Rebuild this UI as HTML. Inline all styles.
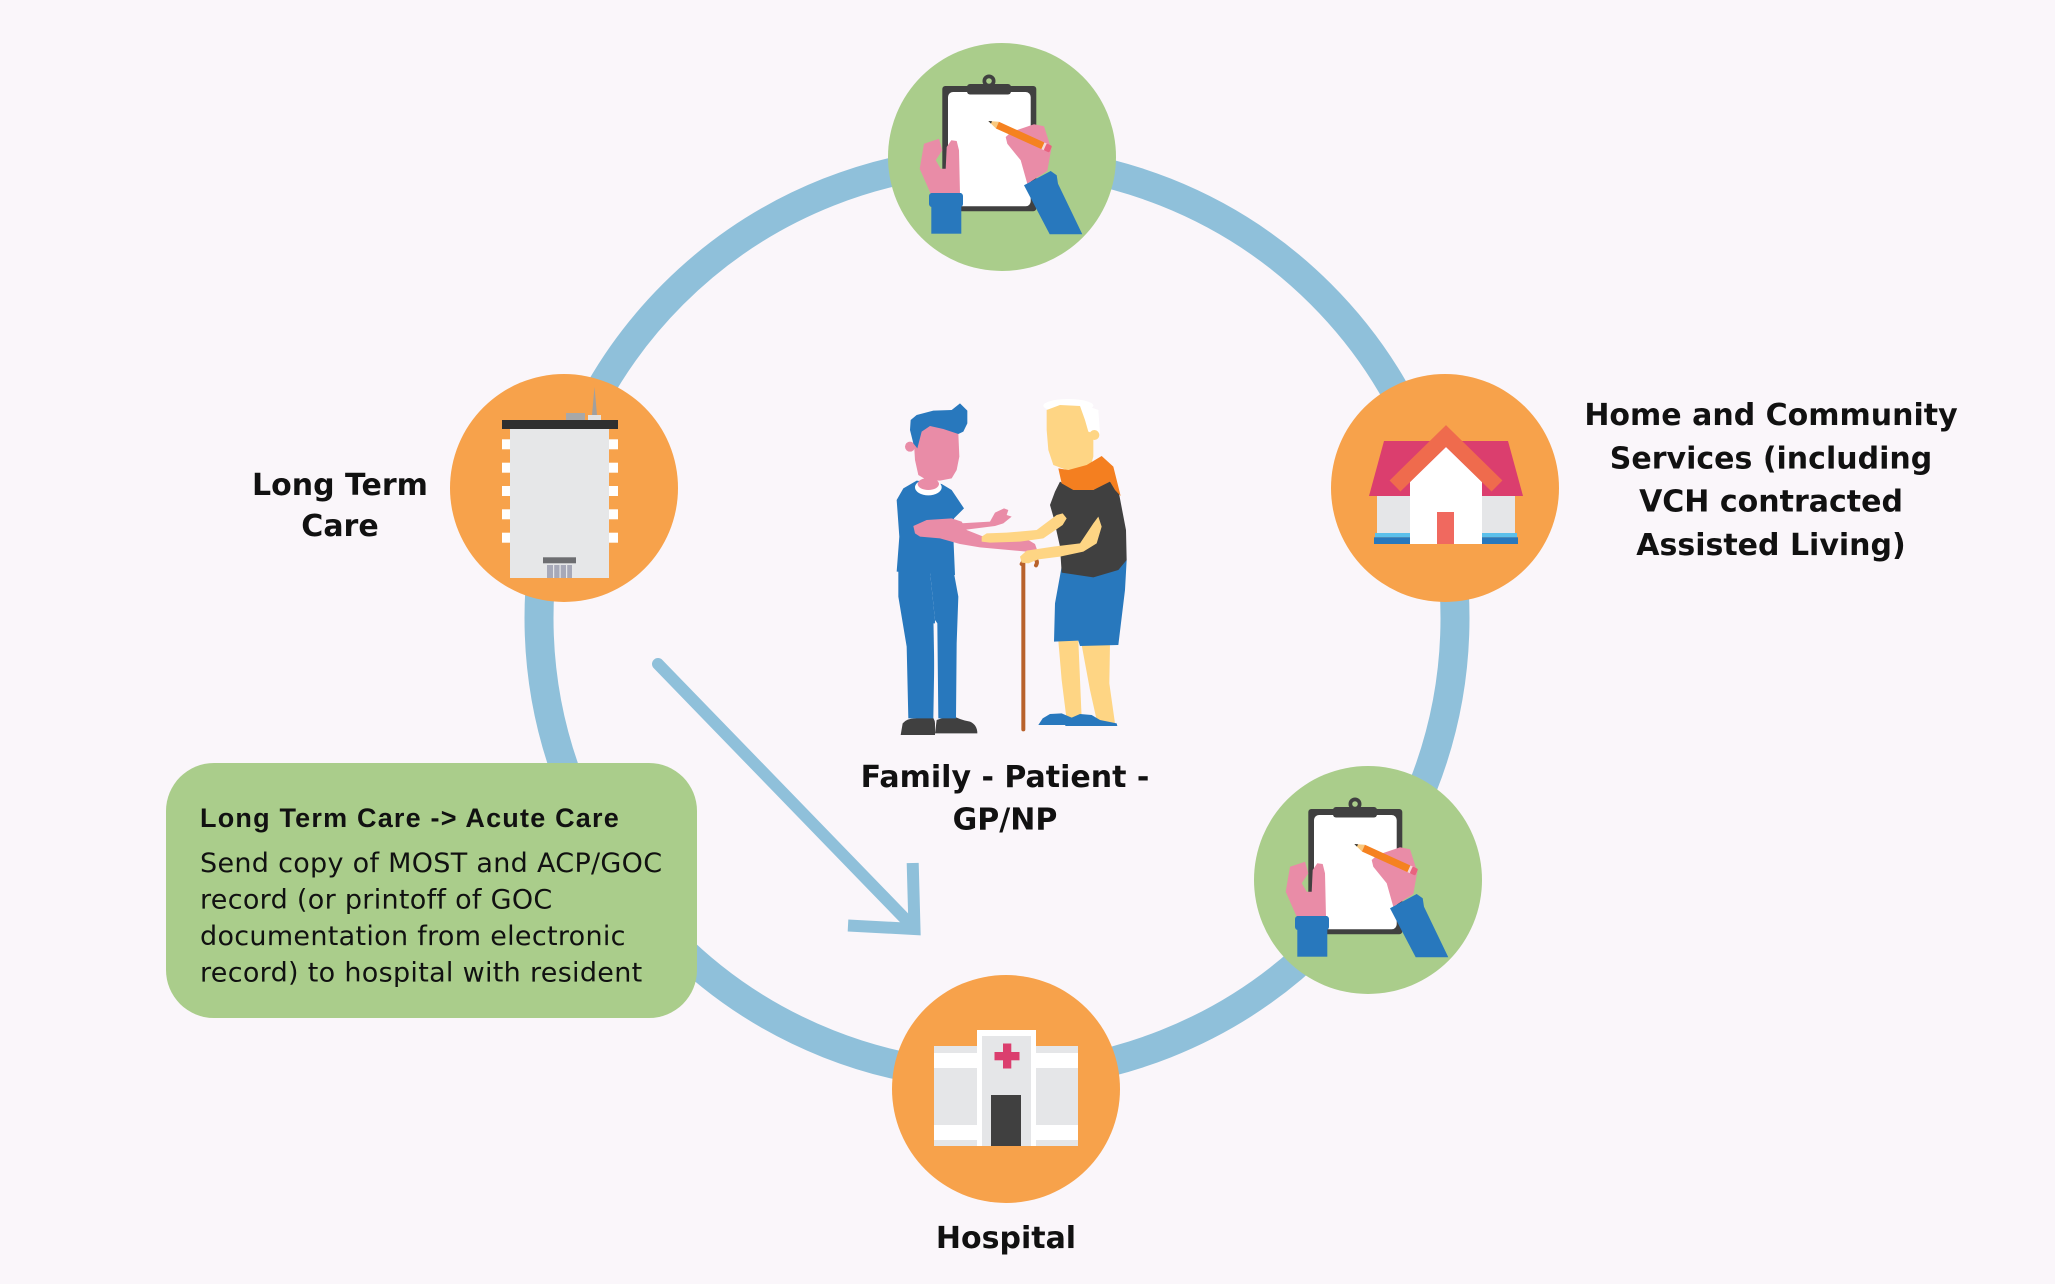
<!DOCTYPE html>
<html>
<head>
<meta charset="utf-8">
<style>
  html,body{margin:0;padding:0;background:#faf6fa;}
  svg{display:block;}
  .lbl{font-family:"DejaVu Sans","Liberation Sans",sans-serif;font-weight:bold;font-size:30px;fill:#111;}
  .bt{font-family:"Liberation Sans","DejaVu Sans",sans-serif;font-weight:bold;font-size:27px;fill:#111;letter-spacing:1.2px;}
  .bb{font-family:"DejaVu Sans","Liberation Sans",sans-serif;font-size:27px;fill:#111;letter-spacing:0.3px;}
</style>
</head>
<body>
<svg width="2055" height="1284" viewBox="0 0 2055 1284" xmlns="http://www.w3.org/2000/svg">
  <rect x="0" y="0" width="2055" height="1284" fill="#faf6fa"/>

  <!-- big ring -->
  <circle cx="997" cy="618" r="458" fill="none" stroke="#8fc0da" stroke-width="29"/>

  <!-- arrow -->
  <line x1="658" y1="664" x2="912" y2="926" stroke="#8fc0da" stroke-width="12" stroke-linecap="round"/>
  <polyline points="912.7,863 914.5,929 848,925.5" fill="none" stroke="#8fc0da" stroke-width="12" stroke-linecap="butt" stroke-linejoin="miter"/>

  <!-- green info box -->
  <rect x="166" y="763" width="531" height="255" rx="48" ry="48" fill="#aacd8b"/>
  <text x="200" y="827" class="bt">Long Term Care -&gt; Acute Care</text>
  <text x="200" y="872" class="bb">Send copy of MOST and ACP/GOC</text>
  <text x="200" y="908.5" class="bb">record (or printoff of GOC</text>
  <text x="200" y="945" class="bb">documentation from electronic</text>
  <text x="200" y="981.7" class="bb">record) to hospital with resident</text>

  <!-- ===== top clipboard circle ===== -->
  <g transform="translate(1002,157)">
    <circle cx="0" cy="0" r="114" fill="#aacd8b"/>
    <rect x="-59.7" y="-71" width="94" height="125.3" rx="3" fill="#404040"/>
    <rect x="-54" y="-65" width="82.7" height="114.3" rx="5" fill="#ffffff"/>
    <rect x="-35" y="-73" width="44" height="10.5" rx="3" fill="#404040"/>
    <circle cx="-13" cy="-76" r="6.5" fill="#404040"/>
    <circle cx="-13" cy="-76" r="2.8" fill="#aacd8b"/>
    <polygon fill="#e98ca7" points="-78,-13.3 -63,-18.3 -59.7,-6.7 -66.3,3.3 -61.3,11.7 -56.3,11.7 -55.3,-10 -50.7,-16.7 -45.3,-16 -43,-6.7 -42,36.7 -71.3,36.7 -82.3,11.7"/>
    <rect x="-70.7" y="36" width="30" height="40.7" fill="#2878bd"/>
    <rect x="-73" y="36" width="34" height="14" rx="3" fill="#2878bd"/>
    <polygon fill="#e98ca7" points="3.7,-20 9.3,-25 32,-32.7 42,-30.7 49.3,-8.3 45.3,14 25.3,26.7 18.7,3.3 5.3,-13.3"/>
    <g transform="translate(-13.7,-36) rotate(24.4)">
      <polygon points="0,0 10,-3.65 10,3.65" fill="#f9c97f"/>
      <polygon points="0,0 3.5,-1.3 3.5,1.3" fill="#333"/>
      <rect x="10" y="-3.65" width="50" height="7.3" fill="#f58220"/>
      <rect x="60" y="-3.65" width="2.5" height="7.3" fill="#f6dada"/>
      <rect x="62.5" y="-3.65" width="6" height="7.3" rx="1.5" fill="#e9637f"/>
    </g>
    <polygon fill="#2878bd" points="22,28.3 48.7,14 54.7,18.3 56,26.7 80.3,77.3 47.7,77.3"/>
  </g>

  <!-- ===== lower right clipboard circle ===== -->
  <g transform="translate(1368,880)">
    <circle cx="0" cy="0" r="114" fill="#aacd8b"/>
    <rect x="-59.7" y="-71" width="94" height="125.3" rx="3" fill="#404040"/>
    <rect x="-54" y="-65" width="82.7" height="114.3" rx="5" fill="#ffffff"/>
    <rect x="-35" y="-73" width="44" height="10.5" rx="3" fill="#404040"/>
    <circle cx="-13" cy="-76" r="6.5" fill="#404040"/>
    <circle cx="-13" cy="-76" r="2.8" fill="#aacd8b"/>
    <polygon fill="#e98ca7" points="-78,-13.3 -63,-18.3 -59.7,-6.7 -66.3,3.3 -61.3,11.7 -56.3,11.7 -55.3,-10 -50.7,-16.7 -45.3,-16 -43,-6.7 -42,36.7 -71.3,36.7 -82.3,11.7"/>
    <rect x="-70.7" y="36" width="30" height="40.7" fill="#2878bd"/>
    <rect x="-73" y="36" width="34" height="14" rx="3" fill="#2878bd"/>
    <polygon fill="#e98ca7" points="3.7,-20 9.3,-25 32,-32.7 42,-30.7 49.3,-8.3 45.3,14 25.3,26.7 18.7,3.3 5.3,-13.3"/>
    <g transform="translate(-13.7,-36) rotate(24.4)">
      <polygon points="0,0 10,-3.65 10,3.65" fill="#f9c97f"/>
      <polygon points="0,0 3.5,-1.3 3.5,1.3" fill="#333"/>
      <rect x="10" y="-3.65" width="50" height="7.3" fill="#f58220"/>
      <rect x="60" y="-3.65" width="2.5" height="7.3" fill="#f6dada"/>
      <rect x="62.5" y="-3.65" width="6" height="7.3" rx="1.5" fill="#e9637f"/>
    </g>
    <polygon fill="#2878bd" points="22,28.3 48.7,14 54.7,18.3 56,26.7 80.3,77.3 47.7,77.3"/>
  </g>

  <!-- ===== Long Term Care circle ===== -->
  <circle cx="564" cy="488" r="114" fill="#f7a24b"/>
  <polygon points="592,415 597,415 594.5,387" fill="#a0a0a0"/>
  <rect x="566" y="413" width="19" height="7" fill="#a8a8a8"/>
  <rect x="588" y="415" width="13" height="5" fill="#e2e2e2"/>
  <rect x="502" y="420" width="116" height="9" fill="#2f2f2f"/>
  <rect x="510" y="429" width="99" height="149" fill="#e6e7e8"/>
  <g fill="#ffffff">
    <rect x="502" y="439.3" width="8" height="10"/>
    <rect x="502" y="462.7" width="8" height="10"/>
    <rect x="502" y="486" width="8" height="10"/>
    <rect x="502" y="509.3" width="8" height="10"/>
    <rect x="502" y="532.7" width="8" height="10"/>
    <rect x="609" y="439.3" width="9" height="10"/>
    <rect x="609" y="462.7" width="9" height="10"/>
    <rect x="609" y="486" width="9" height="10"/>
    <rect x="609" y="509.3" width="9" height="10"/>
    <rect x="609" y="532.7" width="9" height="10"/>
  </g>
  <rect x="543" y="557.3" width="33" height="6" fill="#6d6e71"/>
  <rect x="547" y="565" width="25" height="13" fill="#a7a9b8"/>
  <g fill="#e6e7e8">
    <rect x="553" y="565" width="1.2" height="13"/>
    <rect x="559.5" y="565" width="1.2" height="13"/>
    <rect x="566" y="565" width="1.2" height="13"/>
  </g>

  <!-- ===== House circle ===== -->
  <circle cx="1445" cy="488" r="114" fill="#f7a24b"/>
  <polygon points="1384,441 1508,441 1523,496 1369,496" fill="#db3e6e"/>
  <rect x="1377" y="496" width="138" height="37" fill="#e5e6e8"/>
  <rect x="1375" y="533" width="142" height="4.3" fill="#5bc0eb"/>
  <rect x="1374" y="537.3" width="144" height="6.7" fill="#2878bd"/>
  <polygon points="1410,482 1446,447 1482,482 1482,544 1410,544" fill="#ffffff"/>
  <polyline points="1395,486 1446,436 1497,486" fill="none" stroke="#ef6b4d" stroke-width="15.5" stroke-linecap="butt" stroke-linejoin="miter"/>
  <rect x="1437" y="512" width="17" height="32" fill="#f0695f"/>

  <!-- ===== Hospital circle ===== -->
  <circle cx="1006" cy="1089" r="114" fill="#f7a24b"/>
  <rect x="934" y="1046" width="144" height="100" fill="#e5e6e8"/>
  <rect x="934" y="1053" width="144" height="15" fill="#ffffff"/>
  <rect x="934" y="1125" width="144" height="15" fill="#ffffff"/>
  <rect x="977" y="1030" width="59" height="116" fill="#ffffff"/>
  <rect x="982" y="1036" width="49" height="110" fill="#e5e6e8"/>
  <rect x="1003" y="1043.5" width="8.3" height="25" fill="#db3e6e"/>
  <rect x="994.5" y="1052" width="25" height="8.3" fill="#db3e6e"/>
  <rect x="991" y="1095" width="30" height="51" fill="#404040"/>

  <!-- ===== People ===== -->
  <g transform="translate(880,390) scale(0.33333)">
    <!-- young man -->
    <path d="M62,1035 L68,1000 Q80,985 105,985 L150,975 Q165,985 165,1000 L165,1035 Z" fill="#404040"/>
    <path d="M165,1030 L170,990 L215,975 Q240,990 270,995 Q292,1005 292,1030 Z" fill="#404040"/>
    <polygon fill="#2878bd" points="55,540 150,545 165,690 160,985 85,985 80,770 55,620"/>
    <polygon fill="#2878bd" points="150,545 222,550 235,620 230,760 228,985 175,985 172,700 165,690"/>
    <line x1="163" y1="700" x2="168" y2="980" stroke="#faf6fa" stroke-width="5"/>
    <polygon fill="#2878bd" points="50,330 70,295 110,272 185,282 215,300 252,355 222,385 220,440 225,555 50,545 58,440"/>
    <ellipse cx="145" cy="292" rx="40" ry="24" fill="#ffffff"/>
    <ellipse cx="145" cy="282" rx="32" ry="18" fill="#e98ca7"/>
    <circle cx="90" cy="170" r="15" fill="#e98ca7"/>
    <polygon fill="#e98ca7" points="100,130 120,115 150,105 200,118 235,130 238,200 230,240 215,265 180,272 140,270 115,255 105,210"/>
    <polygon fill="#2878bd" points="92,90 110,75 160,62 215,60 240,40 262,62 262,100 250,125 235,132 190,117 150,108 125,125 112,175 100,160 90,120"/>
    <polygon fill="#e98ca7" points="240,400 330,395 345,368 372,355 385,360 380,375 395,380 370,400 345,408 250,420"/>
    <polygon fill="#e98ca7" points="100,408 140,390 215,385 245,395 260,420 310,440 445,450 465,462 472,482 460,492 440,485 300,472 240,462 180,445 120,440 105,430"/>
    <!-- old man -->
    <line x1="430" y1="510" x2="430" y2="1018" stroke="#b9622b" stroke-width="12" stroke-linecap="round"/>
    <path d="M425,522 Q438,500 462,505 Q476,512 468,526" fill="none" stroke="#b9622b" stroke-width="12" stroke-linecap="round"/>
    <polygon fill="#fed584" points="535,752 595,752 605,985 560,990 545,870"/>
    <polygon fill="#fed584" points="605,765 690,762 688,880 705,1000 650,990 630,900"/>
    <polygon fill="#2878bd" points="475,1005 488,985 510,972 545,970 580,985 560,1005"/>
    <polygon fill="#2878bd" points="555,1008 570,985 600,972 635,975 660,990 710,1000 712,1008"/>
    <polygon fill="#2878bd" points="545,530 740,510 735,600 715,765 600,768 595,752 522,755 525,640"/>
    <polygon fill="#404040" points="540,275 575,295 640,300 680,265 715,300 738,420 740,510 715,540 640,562 545,548 540,470 520,380 510,345 525,305"/>
    <ellipse cx="565" cy="47" rx="75" ry="20" fill="#ffffff"/>
    <polygon fill="#ffffff" points="600,40 655,60 660,130 625,130 605,80"/>
    <circle cx="643" cy="135" r="15" fill="#fed584"/>
    <polygon fill="#fed584" points="500,60 540,45 600,48 615,90 625,125 640,130 640,200 630,235 560,240 520,225 505,180 500,120"/>
    <polygon fill="#f47f20" points="535,235 565,240 620,225 665,198 700,230 722,318 705,300 690,275 640,300 580,300 545,280"/>
    <polygon fill="#fed584" points="305,440 320,430 380,428 470,420 530,375 548,370 560,385 548,405 490,445 420,455 330,458 305,455"/>
    <polygon fill="#fed584" points="420,500 440,482 520,470 600,460 640,400 655,380 665,410 650,460 610,485 540,500 475,508 445,520 425,518"/>
  </g>

  <!-- ===== Labels ===== -->
  <text x="340" y="495" text-anchor="middle" class="lbl">Long Term</text>
  <text x="340" y="536" text-anchor="middle" class="lbl">Care</text>

  <text x="1771" y="425" text-anchor="middle" class="lbl">Home and Community</text>
  <text x="1771" y="468.3" text-anchor="middle" class="lbl">Services (including</text>
  <text x="1771" y="511.7" text-anchor="middle" class="lbl">VCH contracted</text>
  <text x="1771" y="555" text-anchor="middle" class="lbl">Assisted Living)</text>

  <text x="1005" y="787" text-anchor="middle" class="lbl">Family - Patient -</text>
  <text x="1005" y="829.5" text-anchor="middle" class="lbl">GP/NP</text>

  <text x="1006" y="1248" text-anchor="middle" class="lbl">Hospital</text>
</svg>
</body>
</html>
